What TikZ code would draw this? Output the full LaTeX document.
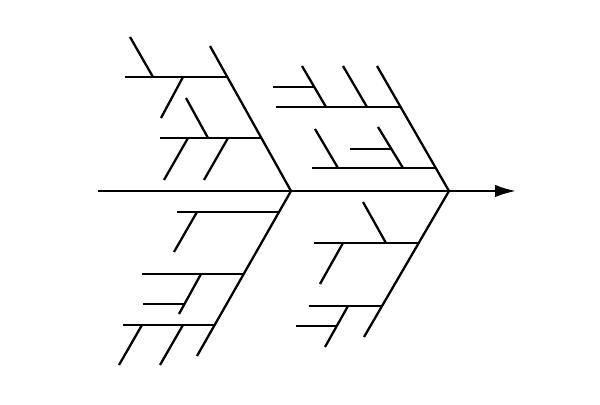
\documentclass[tikz,border=0pt]{standalone}
\usetikzlibrary{arrows.meta}

\tikzset{bone/.style={line width=1.3pt}}

\begin{document}
\begin{tikzpicture}[x=0.02cm,y=-0.02cm,>={Latex[length=0.42cm,width=0.25cm]}]
	\useasboundingbox (0,0) rectangle (600,405);
	% spine and heads of the four bones
	\coordinate (S0) at (98,191);
	\coordinate (S1) at (516,191);
	\coordinate (J1) at (291,191);
	\coordinate (J2) at (449,191);
	\coordinate (UL) at (210,46);
	\coordinate (UR) at (377,66);
	\coordinate (LL) at (197,356);
	\coordinate (LR) at (364,337);

	% upper left
	\coordinate (H1a) at (125,77);  \coordinate (H1b) at (227,77);
	\coordinate (H2a) at (160,138); \coordinate (H2b) at (261,138);
	\coordinate (a1) at (130,37);   \coordinate (a2) at (153,77);
	\coordinate (a3) at (183,77);   \coordinate (a4) at (161,118);
	\coordinate (a5) at (186,98);   \coordinate (a6) at (208,138);
	\coordinate (a7) at (188,138);  \coordinate (a8) at (164,180);
	\coordinate (a9) at (228,138);  \coordinate (a10) at (204,180);

	% upper right
	\coordinate (HAa) at (276,107); \coordinate (HAb) at (400,107);
	\coordinate (HBa) at (312,168); \coordinate (HBb) at (436,168);
	\coordinate (b1) at (302,66);   \coordinate (b2) at (326,107);
	\coordinate (b3) at (343,66);   \coordinate (b4) at (367,107);
	\coordinate (b5) at (273,87);   \coordinate (b6) at (314,87);
	\coordinate (b7) at (315,129);  \coordinate (b8) at (338,168);
	\coordinate (b9) at (378,127);  \coordinate (b10) at (403,168);
	\coordinate (b11) at (350,149); \coordinate (b12) at (391,149);

	% lower left
	\coordinate (HCa) at (177,212); \coordinate (HCb) at (280,212);
	\coordinate (HDa) at (142,274); \coordinate (HDb) at (244,274);
	\coordinate (HEa) at (123,325); \coordinate (HEb) at (215,325);
	\coordinate (c1) at (197,212);  \coordinate (c2) at (174,252);
	\coordinate (c3) at (201,274);  \coordinate (c4) at (179,314);
	\coordinate (c5) at (143,304);  \coordinate (c6) at (184,304);
	\coordinate (c7) at (142,325);  \coordinate (c8) at (119,365);
	\coordinate (c9) at (183,325);  \coordinate (c10) at (160,365);

	% lower right
	\coordinate (HFa) at (314,243); \coordinate (HFb) at (418,243);
	\coordinate (HGa) at (309,306); \coordinate (HGb) at (382,306);
	\coordinate (d1) at (363,202);  \coordinate (d2) at (386,243);
	\coordinate (d3) at (343,243);  \coordinate (d4) at (320,284);
	\coordinate (d5) at (348,306);  \coordinate (d6) at (325,347);
	\coordinate (d7) at (296,326);  \coordinate (d8) at (336,326);

	\draw[bone,->] (S0) -- (S1);
	\draw[bone] (UL) -- (J1) -- (LL);
	\draw[bone] (UR) -- (J2) -- (LR);

	\draw[bone] (H1a) -- (H1b);
	\draw[bone] (H2a) -- (H2b);
	\draw[bone] (a1) -- (a2);
	\draw[bone] (a3) -- (a4);
	\draw[bone] (a5) -- (a6);
	\draw[bone] (a7) -- (a8);
	\draw[bone] (a9) -- (a10);

	\draw[bone] (HAa) -- (HAb);
	\draw[bone] (HBa) -- (HBb);
	\draw[bone] (b1) -- (b2);
	\draw[bone] (b3) -- (b4);
	\draw[bone] (b5) -- (b6);
	\draw[bone] (b7) -- (b8);
	\draw[bone] (b9) -- (b10);
	\draw[bone] (b11) -- (b12);

	\draw[bone] (HCa) -- (HCb);
	\draw[bone] (HDa) -- (HDb);
	\draw[bone] (HEa) -- (HEb);
	\draw[bone] (c1) -- (c2);
	\draw[bone] (c3) -- (c4);
	\draw[bone] (c5) -- (c6);
	\draw[bone] (c7) -- (c8);
	\draw[bone] (c9) -- (c10);

	\draw[bone] (HFa) -- (HFb);
	\draw[bone] (HGa) -- (HGb);
	\draw[bone] (d1) -- (d2);
	\draw[bone] (d3) -- (d4);
	\draw[bone] (d5) -- (d6);
	\draw[bone] (d7) -- (d8);
\end{tikzpicture}
\end{document}
